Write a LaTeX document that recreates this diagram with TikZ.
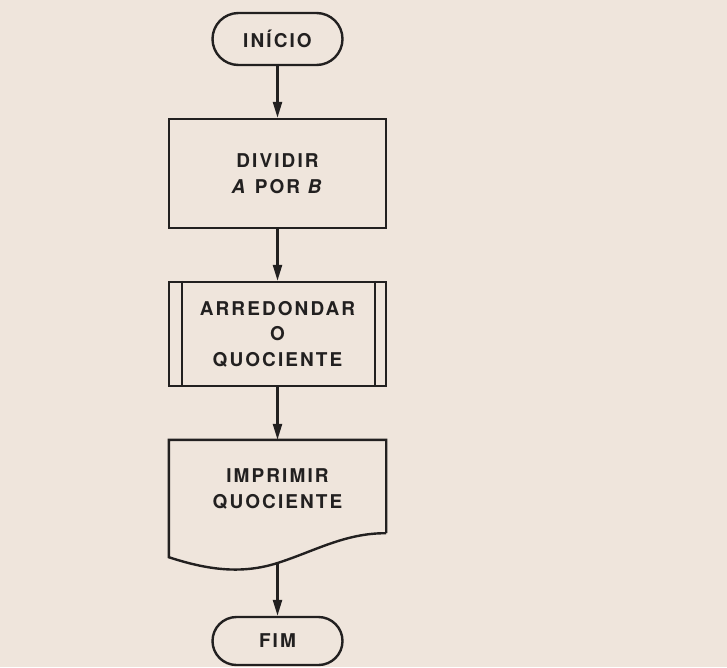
\documentclass[tikz,border=0pt]{standalone}
\usepackage{fontspec}
\setmainfont{TeX Gyre Heros}
\newfontfamily\chartfont[LetterSpace=11]{TeX Gyre Heros}
\usetikzlibrary{arrows.meta,calc}
\definecolor{paper}{RGB}{239,229,220}
\definecolor{ink}{RGB}{34,32,32}

\tikzset{
  chart/.style={font=\chartfont\bfseries\fontsize{19}{25.5}\selectfont,
                text=ink, align=center, inner sep=0pt},
  outline/.style={draw=ink, line width=2.4pt},
  terminal/.style={chart, outline, rounded corners=#1, minimum width=130pt,
                   minimum height=2*#1},
  process/.style={chart, outline, minimum width=217pt, minimum height=109pt},
  subproc/.style={chart, outline, minimum width=217pt, minimum height=104pt},
  flow/.style={draw=ink, line width=2.4pt, -{Triangle[length=16pt,width=9pt]}},
}

\begin{document}
\begin{tikzpicture}[x=1pt, y=-1pt]
  % sheet
  \fill[paper] (0,0) rectangle (727,667);
  \useasboundingbox (0,0) rectangle (727,667);

  % start
  \node[terminal=26pt] (start) at (277.5,39) {INÍCIO};

  % divide
  \node[process] (divide) at (277.5,173.5) {DIVIDIR\\\textit{A} POR \textit{B}};

  % predefined process: round the quotient
  \node[subproc] (round) at (277.5,334) {ARREDONDAR\\O\\QUOCIENTE};
  \draw[outline, line width=2pt] ([xshift=14pt]round.north west) -- ([xshift=14pt]round.south west);
  \draw[outline, line width=2pt] ([xshift=-12pt]round.north east) -- ([xshift=-12pt]round.south east);

  % document: print the quotient
  \node[minimum width=217pt, minimum height=117pt, inner sep=0pt] (print) at (277.5,498.5) {};
  \node[chart] (printtext) at (277.5,489) {IMPRIMIR\\QUOCIENTE};
  \coordinate (printout) at (277.5,563);
  \draw[outline, line join=miter]
    ([yshift=24pt]print.south east) -- (print.north east) -- (print.north west) -- (print.south west)
    .. controls (205,569) and (240,575) .. (printout)
    .. controls (315,551) and (345,533) .. ([yshift=24pt]print.south east);

  % end
  \node[terminal=24pt] (stop) at (277.5,641) {FIM};

  % connectors
  \draw[flow] (start) -- (divide);
  \draw[flow] (divide) -- (round);
  \draw[flow] (round) -- (print.north);
  \draw[flow] (printout) -- (stop);
\end{tikzpicture}
\end{document}
